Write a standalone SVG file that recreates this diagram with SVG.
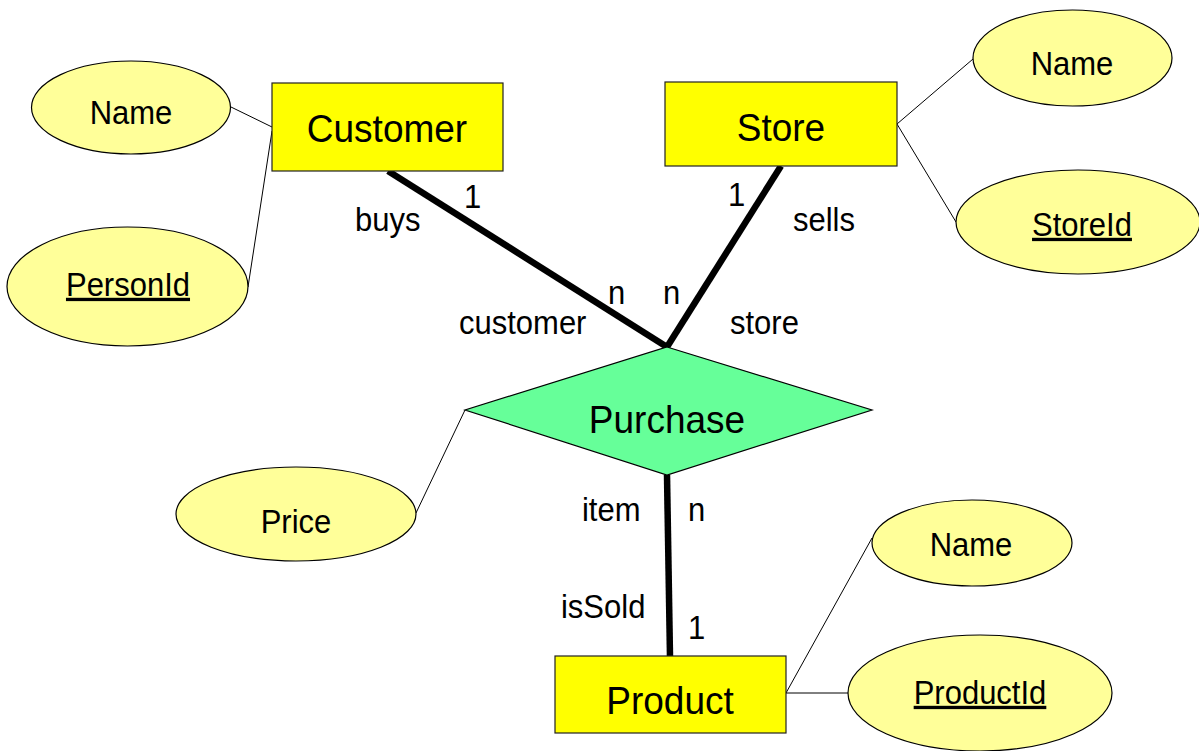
<svg xmlns="http://www.w3.org/2000/svg" width="1199" height="751" viewBox="0 0 1199 751">
  <style>
    text { font-family: "Liberation Sans", Arial, sans-serif; fill: #000; transform-box: fill-box; transform-origin: 50% 50%; transform: scaleY(1.07); }
    .ent { fill: #FFFF00; stroke: #222; stroke-width: 1.2; }
    .attr { fill: #FFFF99; stroke: #000; stroke-width: 1.2; }
    .rel { fill: #66FF99; stroke: #000; stroke-width: 1.2; }
    .big { font-size: 37px; text-anchor: middle; }
    .txt { font-size: 31px; text-anchor: middle; }
    .lbl { font-size: 31px; }
    .key { text-decoration: underline; }
    .thin { stroke: #000; stroke-width: 1; fill: none; }
    .thick { stroke: #000; stroke-width: 6.5; fill: none; }
  </style>

  <!-- connectors -->
  <g id="connectors">
    <line class="thin" x1="231" y1="107" x2="272" y2="127"/>
    <line class="thin" x1="248" y1="287" x2="272" y2="131"/>
    <line class="thin" x1="897" y1="124" x2="973" y2="59"/>
    <line class="thin" x1="897" y1="124" x2="956" y2="222"/>
    <line class="thin" x1="416" y1="513" x2="465" y2="410"/>
    <line class="thin" x1="786" y1="693" x2="872" y2="538"/>
    <line class="thin" x1="786" y1="693" x2="848" y2="693"/>
    <line class="thick" x1="388" y1="171" x2="667" y2="347"/>
    <line class="thick" x1="781" y1="166" x2="667" y2="347"/>
    <line class="thick" x1="667" y1="475" x2="670" y2="657"/>
    <text class="lbl" x="464" y="207">1</text>
    <text class="lbl" x="355" y="230">buys</text>
    <text class="lbl" x="608" y="303">n</text>
    <text class="lbl" x="459" y="333">customer</text>
    <text class="lbl" x="728" y="205">1</text>
    <text class="lbl" x="793" y="230">sells</text>
    <text class="lbl" x="663" y="303">n</text>
    <text class="lbl" x="730" y="333">store</text>
    <text class="lbl" x="582" y="520">item</text>
    <text class="lbl" x="688" y="520">n</text>
    <text class="lbl" x="561" y="617">isSold</text>
    <text class="lbl" x="688" y="638">1</text>
  </g>

  <!-- entities -->
  <g id="customer">
    <rect class="ent" x="272" y="83" width="231" height="88"/>
    <text class="big" x="387" y="141">Customer</text>
  </g>
  <g id="store">
    <rect class="ent" x="665" y="82" width="232" height="84"/>
    <text class="big" x="781" y="140">Store</text>
  </g>
  <g id="product">
    <rect class="ent" x="555" y="656" width="231" height="77"/>
    <text class="big" x="670" y="713">Product</text>
  </g>

  <!-- relationship -->
  <g id="purchase">
    <polygon class="rel" points="667,347 872,410 667,475 465,410"/>
    <text class="big" x="667" y="432">Purchase</text>
  </g>

  <!-- attributes -->
  <g id="customer-name">
    <ellipse class="attr" cx="131" cy="107.5" rx="99.5" ry="46.5"/>
    <text class="txt" x="131" y="123">Name</text>
  </g>
  <g id="customer-personid">
    <ellipse class="attr" cx="127.5" cy="286.5" rx="120.5" ry="59.5"/>
    <text class="txt key" x="128" y="295">PersonId</text>
  </g>
  <g id="store-name">
    <ellipse class="attr" cx="1072.5" cy="58" rx="99.5" ry="48"/>
    <text class="txt" x="1072" y="74">Name</text>
  </g>
  <g id="store-storeid">
    <ellipse class="attr" cx="1078" cy="222" rx="122" ry="52"/>
    <text class="txt key" x="1082" y="235">StoreId</text>
  </g>
  <g id="purchase-price">
    <ellipse class="attr" cx="296" cy="514" rx="120" ry="47"/>
    <text class="txt" x="296" y="532">Price</text>
  </g>
  <g id="product-name">
    <ellipse class="attr" cx="972" cy="543" rx="100" ry="43"/>
    <text class="txt" x="971" y="555">Name</text>
  </g>
  <g id="product-productid">
    <ellipse class="attr" cx="980" cy="693" rx="132" ry="58"/>
    <text class="txt key" x="980" y="703">ProductId</text>
  </g>
</svg>
